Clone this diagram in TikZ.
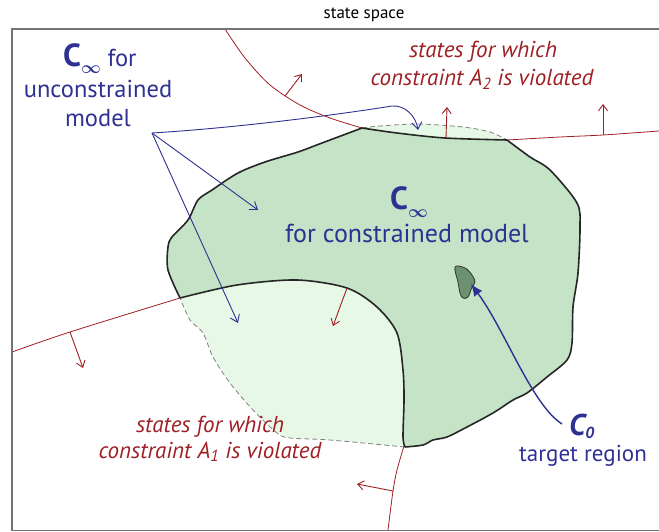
\documentclass[tikz,border=0pt]{standalone}
\usepackage{amsmath}
\usepackage{fontspec}
\setmainfont{PT Sans}
\usetikzlibrary{arrows.meta}
\definecolor{cblue}{RGB}{46,49,146}
\definecolor{cred}{RGB}{158,31,36}
\definecolor{gmid}{RGB}{197,227,198}
\definecolor{glight}{RGB}{231,248,231}
\definecolor{gdark}{RGB}{108,145,112}
\definecolor{framec}{RGB}{115,115,115}
\newcommand{\bigC}{{\fontsize{32}{32}\selectfont\bfseries C}}
\newcommand{\infsub}{\raisebox{-7pt}{\fontsize{19}{19}\selectfont$\boldsymbol{\infty}$}}
\begin{document}
\begin{tikzpicture}[x=1pt,y=-1pt,
  bluelab/.style={text=cblue, font=\fontsize{24.5}{28}\selectfont, inner sep=0pt},
  bluelabB/.style={text=cblue, font=\fontsize{26}{30}\selectfont, inner sep=0pt},
  redlab/.style={text=cred, font=\fontsize{23}{26}\selectfont\itshape, inner sep=0pt},
  bound/.style={line width=1.6pt, black!85, line join=round},
  dashline/.style={line width=0.8pt, gray, dash pattern=on 5pt off 3pt},
  redline/.style={line width=0.8pt, cred},
  redarrow/.style={line width=0.9pt, cred, -{Straight Barb[length=6pt,width=9pt]}},
  bluearrow/.style={line width=0.9pt, cblue, -{Straight Barb[length=7pt,width=10pt]}},
  c0arrow/.style={line width=1.4pt, cblue, -{Latex[length=12pt,width=10pt]}}]
\useasboundingbox (0,0) rectangle (659,532);

% regions
\fill[glight] plot[smooth] coordinates {(362,128) (380,126) (418,124) (463,127) (490,132) (507,140)}
  -- plot[smooth] coordinates {(507,140) (530,157) (550,170) (577,203) (580,227) (578,273) (573,307) (572,343) (567,360) (547,377) (527,393) (513,400) (493,413) (467,427) (447,437) (433,440) (423,445) (405,447)}
  -- plot[smooth] coordinates {(405,447) (330,440) (290,438) (277,433) (253,410) (230,383) (213,357) (203,333) (190,320) (180,298)}
  -- plot[smooth] coordinates {(180,298) (168,270) (168,247) (172,237) (188,220) (198,200) (212,190) (238,173) (265,162) (298,152) (322,143) (362,128)}
  -- cycle;
\fill[gmid] plot[smooth] coordinates {(362,128) (397,133) (445,138) (507,140)}
  -- plot[smooth] coordinates {(507,140) (530,157) (550,170) (577,203) (580,227) (578,273) (573,307) (572,343) (567,360) (547,377) (527,393) (513,400) (493,413) (467,427) (447,437) (433,440) (423,445) (405,447)}
  -- plot[smooth] coordinates {(405,447) (403,437) (404,400) (403,370) (397,333) (377,307) (347,288) (297,280) (237,285) (180,298)}
  -- plot[smooth] coordinates {(180,298) (168,270) (168,247) (172,237) (188,220) (198,200) (212,190) (238,173) (265,162) (298,152) (322,143) (362,128)}
  -- cycle;

% dashed outline of unconstrained region
\draw[dashline] plot[smooth] coordinates {(362,128) (380,126) (418,124) (463,127) (490,132) (507,140)};
\draw[dashline] plot[smooth] coordinates {(405,447) (330,440) (290,438) (277,433) (253,410) (230,383) (213,357) (203,333) (190,320) (180,298)};

% constraint lines
\draw[redline] plot[smooth] coordinates {(225,29) (245,58) (270,85) (300,105) (330,118) (362,128)};
\draw[redline] plot[smooth] coordinates {(507,140) (560,137) (603,135) (659,131)};
\draw[redline] plot[smooth] coordinates {(12,352) (70,332) (180,298)};
\draw[redline] plot[smooth] coordinates {(404,446) (397,470) (393,491) (388,530)};

% black boundary
\draw[bound] plot[smooth] coordinates {(362,128) (397,133) (445,138) (507,140)};
\draw[bound] plot[smooth] coordinates {(507,140) (530,157) (550,170) (577,203) (580,227) (578,273) (573,307) (572,343) (567,360) (547,377) (527,393) (513,400) (493,413) (467,427) (447,437) (433,440) (423,445) (405,447)};
\draw[bound] plot[smooth] coordinates {(405,447) (403,437) (404,400) (403,370) (397,333) (377,307) (347,288) (297,280) (237,285) (180,298)};
\draw[bound] plot[smooth] coordinates {(180,298) (168,270) (168,247) (172,237) (188,220) (198,200) (212,190) (238,173) (265,162) (298,152) (322,143) (362,128)};

% target region
\filldraw[fill=gdark, draw=black!80, line width=0.8pt] plot[smooth cycle, tension=0.6] coordinates {(455,267) (465,268) (472,275) (475,282) (472,287) (468,297) (463,298) (460,293) (458,282)};

% frame
\draw[framec, line width=1.5pt] (659,29) -- (12,29) -- (12,530.5) -- (659,530.5);

% red arrows
\coordinate (ra1) at (285,96); \coordinate (rb1) at (302,74);
\coordinate (ra2) at (446,138); \coordinate (rb2) at (447,107);
\coordinate (ra3) at (603,135); \coordinate (rb3) at (603,104);
\coordinate (ra4) at (70,332); \coordinate (rb4) at (83,368);
\coordinate (ra5) at (347,288); \coordinate (rb5) at (333,326);
\coordinate (ra6) at (393,491); \coordinate (rb6) at (357,484);
\foreach \i in {1,...,6} {\draw[redarrow] (ra\i) -- (rb\i);}

% blue arrows
\coordinate (hub) at (152,133);
\coordinate (bt1) at (258,210);
\coordinate (bt2) at (238,323);
\coordinate (bt3) at (418,130);
\draw[bluearrow] (hub) -- (bt1);
\draw[bluearrow] (hub) -- (bt2);
\draw[bluearrow] (hub) .. controls (250,127) and (355,112) .. (392,106) .. controls (406,105) and (416,117) .. (bt3);

\coordinate (c0s) at (562,424);
\coordinate (c0t) at (471,284);
\draw[c0arrow] (c0s) .. controls (532,405) and (505,330) .. (c0t);

% labels
\node[font=\fontsize{17}{20}\selectfont, anchor=base, inner sep=0pt] (ss) at (364,19) {state space};
\node[bluelab, anchor=base west] (cinfA) at (63,67) {\bigC\infsub\ for};
\node[bluelab, anchor=base] (unc) at (98,98) {unconstrained};
\node[bluelab, anchor=base] (mdl) at (98,127) {model};
\node[bluelabB, anchor=base west] (cinfB) at (390,210) {\bigC\infsub};
\node[bluelabB, anchor=base] (forcm) at (407,242) {for constrained model};
\node[redlab, anchor=base] (r2a) at (483,58) {states for which};
\node[redlab, anchor=base] (r2b) at (482,86) {constraint A\textsubscript{2} is violated};
\node[redlab, anchor=base] (r1a) at (210,432) {states for which};
\node[redlab, anchor=base] (r1b) at (210,458) {constraint A\textsubscript{1} is violated};
\node[text=cblue, anchor=base west, inner sep=0pt] (c0) at (569,435) {{\fontsize{30}{30}\selectfont\bfseries\itshape C}{\fontsize{16}{16}\selectfont\bfseries\itshape\raisebox{-3pt}{0}}};
\node[bluelab, font=\fontsize{23}{26}\selectfont, anchor=base] (tr) at (583,461) {target region};
\end{tikzpicture}
\end{document}
